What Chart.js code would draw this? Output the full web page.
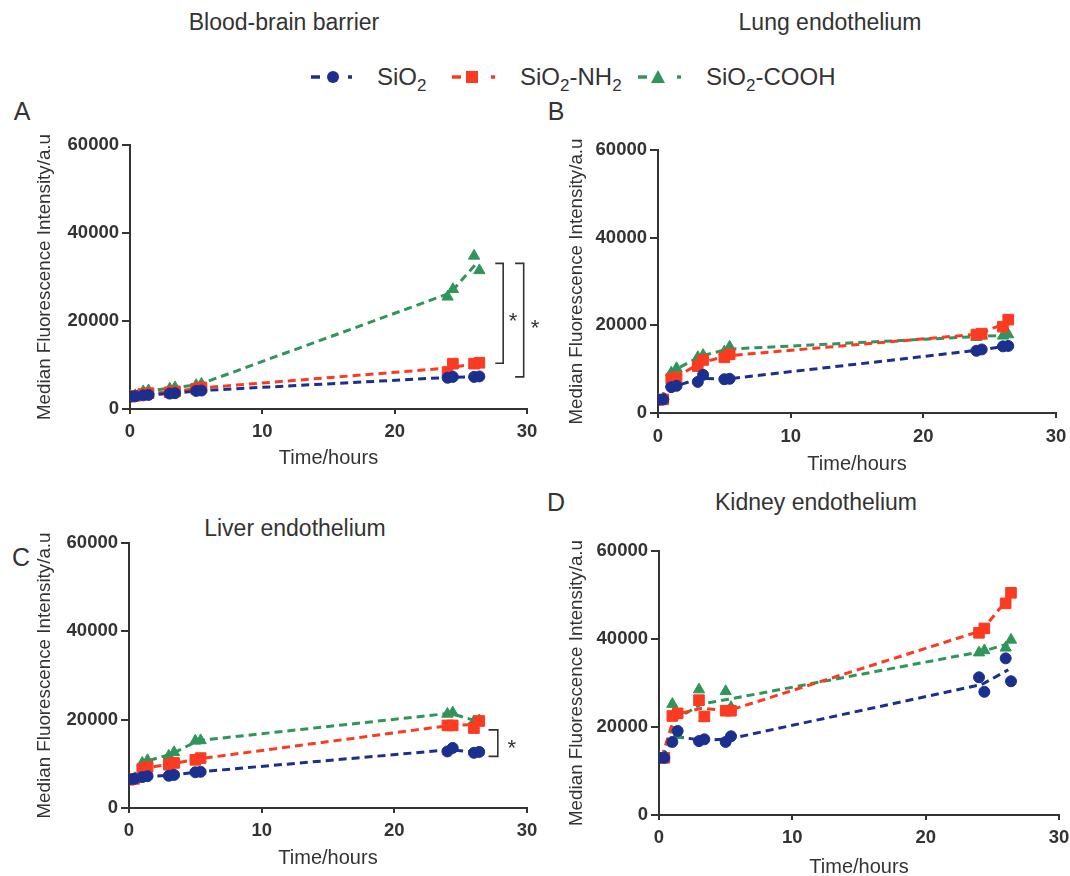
<!DOCTYPE html>
<html>
<head>
<meta charset="utf-8">
<script src="https://cdn.jsdelivr.net/npm/chart.js@4.4.0/dist/chart.umd.min.js"></script>
<style>
  body { margin: 0; width: 1070px; height: 876px; position: relative; overflow: hidden; background: #fff;
         font-family: "Liberation Sans", Arial, Helvetica, sans-serif; color: #333; }
  canvas { position: absolute; }
  .title { position: absolute; font-size: 23px; transform: translate(-50%, -50%); white-space: nowrap; }
  .letter { position: absolute; font-size: 25px; transform: translate(-50%, -50%); }
  .leg { position: absolute; top: 77px; font-size: 24px; transform: translateY(-50%); white-space: nowrap; }
  .leg sub { font-size: 17px; vertical-align: -6px; line-height: 0; }
  #icons { position: absolute; left: 0; top: 62px; }
</style>
</head>
<body>
<div class="title" style="left:284px;top:22px">Blood-brain barrier</div>
<div class="title" style="left:830px;top:22px">Lung endothelium</div>
<div class="title" style="left:295px;top:528px">Liver endothelium</div>
<div class="title" style="left:816px;top:502px">Kidney endothelium</div>
<div class="letter" style="left:22px;top:111px">A</div>
<div class="letter" style="left:556px;top:111px">B</div>
<div class="letter" style="left:21px;top:557px">C</div>
<div class="letter" style="left:556px;top:502px">D</div>

<svg id="icons" width="720" height="30">
  <g stroke-width="3.5">
    <line x1="311" y1="15" x2="320" y2="15" stroke="#1b2f8f"/>
    <circle cx="333" cy="15" r="6" fill="#1b2f8f"/>
    <line x1="348" y1="15" x2="352" y2="15" stroke="#1b2f8f"/>
    <line x1="452" y1="15" x2="461" y2="15" stroke="#fb3b21"/>
    <rect x="466" y="9" width="12" height="12" fill="#fb3b21"/>
    <line x1="491" y1="15" x2="495" y2="15" stroke="#fb3b21"/>
    <line x1="638" y1="15" x2="647" y2="15" stroke="#30955a"/>
    <polygon points="658,8 665,21 651,21" fill="#30955a"/>
    <line x1="677" y1="15" x2="681" y2="15" stroke="#30955a"/>
  </g>
</svg>
<div class="leg" style="left:377px">SiO<sub>2</sub></div>
<div class="leg" style="left:520px">SiO<sub>2</sub>-NH<sub>2</sub></div>
<div class="leg" style="left:706px">SiO<sub>2</sub>-COOH</div>

<canvas id="bbb"></canvas>
<canvas id="lung"></canvas>
<canvas id="liver"></canvas>
<canvas id="kidney"></canvas>

<script>
const FONT = '"Liberation Sans", Arial, Helvetica, sans-serif';
const INK = '#333';
const BLUE = '#1b2f8f', RED = '#fb3b21', GREEN = '#30955a';

// sampling times (h) of the two replicates, slightly staggered as in the figure
const timesRep1 = [0, 1, 3, 5, 24, 26];
const timesRep2 = [0.4, 1.4, 3.4, 5.4, 24.4, 26.4];
const xTicks = [0, 10, 20, 30];
const yTicks = [0, 20000, 40000, 60000];

// A  blood-brain barrier
const bbbSiO2_1 = [2800, 3100, 3500, 4100, 7100, 7300];
const bbbSiO2_2 = [2900, 3200, 3600, 4200, 7300, 7400];
const bbbNH2_1  = [2800, 3400, 3800, 4600, 8400, 10300];
const bbbNH2_2  = [3000, 3600, 4000, 4900, 10300, 10500];
const bbbCOOH_1 = [3000, 4000, 4600, 5400, 25500, 34800];
const bbbCOOH_2 = [3100, 4200, 4900, 5700, 27200, 31500];

// B  lung endothelium
const lungSiO2_1 = [3000, 5900, 7100, 7700, 14200, 15200];
const lungSiO2_2 = [3100, 6200, 8700, 7800, 14500, 15300];
const lungNH2_1  = [3000, 7800, 10700, 12700, 17900, 19700];
const lungNH2_2  = [3100, 8100, 12100, 13400, 18100, 21300];
const lungCOOH_1 = [3000, 9200, 12700, 14000, 17300, 17600];
const lungCOOH_2 = [3100, 10200, 13200, 15100, 17600, 17900];

// C  liver endothelium
const liverSiO2_1 = [6500, 7000, 7300, 8100, 12800, 12500];
const liverSiO2_2 = [6600, 7200, 7500, 8200, 13600, 12700];
const liverNH2_1  = [6400, 8800, 9800, 10900, 18700, 18100];
const liverNH2_2  = [6600, 9300, 10200, 11300, 18700, 19700];
const liverCOOH_1 = [6500, 10200, 11800, 15200, 21300, 19600];
const liverCOOH_2 = [6700, 10800, 12600, 15300, 21600, 19800];

// D  kidney endothelium
const kidneySiO2_1 = [13000, 16600, 16800, 16600, 31300, 35600];
const kidneySiO2_2 = [13000, 19100, 17200, 17900, 28000, 30400];
const kidneyNH2_1  = [13000, 22500, 26100, 23700, 41400, 48100];
const kidneyNH2_2  = [13000, 23100, 22400, 23700, 42400, 50500];
const kidneyCOOH_1 = [13000, 25200, 28500, 28100, 36900, 38000];
const kidneyCOOH_2 = [13000, 18100, 22000, 24500, 37400, 39800];

// significance brackets (hours / a.u.)
const bbbBrackets = [
  { x0: 27.6, x: 28.2, top: 33100, bottom: 10400, sx: 28.95, sy: 19800 },
  { x0: 29.1, x: 29.75, top: 33100, bottom: 7300, sx: 30.6, sy: 18300 }
];
const liverBrackets = [
  { x0: 27.1, x: 27.8, top: 17700, bottom: 11700, sx: 28.85, sy: 13300 }
];

const bracketPlugin = {
  id: 'brackets',
  afterDatasetsDraw(chart, args, opts) {
    const { ctx, scales: { x, y } } = chart;
    (opts.items || []).forEach(b => {
      const xl = x.getPixelForValue(b.x0), xr = x.getPixelForValue(b.x);
      const y1 = y.getPixelForValue(b.top), y2 = y.getPixelForValue(b.bottom);
      ctx.save();
      ctx.strokeStyle = INK; ctx.lineWidth = 1.6;
      ctx.beginPath();
      ctx.moveTo(xl, y1); ctx.lineTo(xr, y1); ctx.lineTo(xr, y2); ctx.lineTo(xl, y2);
      ctx.stroke();
      ctx.fillStyle = INK; ctx.font = '22px ' + FONT;
      ctx.textAlign = 'center'; ctx.textBaseline = 'middle';
      ctx.fillText('*', x.getPixelForValue(b.sx), y.getPixelForValue(b.sy));
      ctx.restore();
    });
  }
};

function panel(id, box, groups, brackets) {
  const cv = document.getElementById(id);
  cv.width = box.w; cv.height = box.h;
  cv.style.left = box.left + 'px'; cv.style.top = box.top + 'px';

  const points = groups.map(g => ({
    data: g.rep1.map((v, i) => ({ x: timesRep1[i], y: v }))
      .concat(g.rep2.map((v, i) => ({ x: timesRep2[i], y: v }))),
    showLine: false, pointStyle: g.style, pointRadius: g.r, pointHoverRadius: g.r,
    backgroundColor: g.color, borderColor: g.color, borderWidth: 1
  }));
  const lines = groups.map(g => ({
    data: g.rep1.map((v, i) => ({ x: (timesRep1[i] + timesRep2[i]) / 2, y: (v + g.rep2[i]) / 2 })),
    showLine: true, pointRadius: 0, borderColor: g.color, borderWidth: 3,
    borderDash: [8, 5], fill: false, tension: 0
  }));

  new Chart(cv, {
    type: 'scatter',
    data: { datasets: [...points, ...lines] },
    options: {
      responsive: false, animation: false, devicePixelRatio: 1,
      layout: { padding: { left: 0, top: box.pt, right: box.pr, bottom: box.pb } },
      plugins: { legend: { display: false }, tooltip: { enabled: false }, brackets: { items: brackets } },
      scales: {
        x: {
          type: 'linear', min: 0, max: 30,
          afterBuildTicks: s => { s.ticks = xTicks.map(v => ({ value: v })); },
          afterFit: s => { s.height = box.xh; },
          ticks: { color: INK, padding: box.xlp, font: { family: FONT, size: 18.5, weight: 'bold' }, maxRotation: 0 },
          grid: { drawOnChartArea: false, color: INK, lineWidth: 2, tickLength: 5 },
          border: { color: INK, width: 2 },
          title: { display: true, text: 'Time/hours', color: INK,
                   font: { family: FONT, size: 20, lineHeight: 1 }, padding: { top: 0, bottom: box.xtp } }
        },
        y: {
          min: 0, max: 60000,
          afterBuildTicks: s => { s.ticks = yTicks.map(v => ({ value: v })); },
          afterFit: s => { s.width = box.yw; },
          ticks: { color: INK, padding: 3, font: { family: FONT, size: 18.5, weight: 'bold' }, callback: v => String(v) },
          grid: { drawOnChartArea: false, color: INK, lineWidth: 2, tickLength: 8 },
          border: { color: INK, width: 2 },
          title: { display: true, text: 'Median Fluorescence Intensity/a.u', color: INK,
                   font: { family: FONT, size: 18.8, lineHeight: 1 }, padding: { top: box.ytp, bottom: 0 } }
        }
      }
    },
    plugins: [bracketPlugin]
  });
}

const mk = (s1, s2, n1, n2, c1, c2) => [
  { rep1: s1, rep2: s2, color: BLUE, style: 'circle', r: 5.5 },
  { rep1: n1, rep2: n2, color: RED, style: 'rect', r: 7.5 },
  { rep1: c1, rep2: c2, color: GREEN, style: 'triangle', r: 6.5 }
];

panel('bbb', { left: 22, top: 120, w: 533, h: 360, yw: 108, xh: 60, pt: 25, pr: 28, pb: 11, xlp: 7, xtp: 1, ytp: 13.5 },
  mk(bbbSiO2_1, bbbSiO2_2, bbbNH2_1, bbbNH2_2, bbbCOOH_1, bbbCOOH_2), bbbBrackets);
panel('lung', { left: 552, top: 125, w: 530, h: 360, yw: 106, xh: 62, pt: 25, pr: 26, pb: 10, xlp: 8, xtp: 1, ytp: 15.5 },
  mk(lungSiO2_1, lungSiO2_2, lungNH2_1, lungNH2_2, lungCOOH_1, lungCOOH_2), []);
panel('liver', { left: 22, top: 518, w: 533, h: 358, yw: 107, xh: 60, pt: 25, pr: 28, pb: 8, xlp: 7, xtp: 0, ytp: 13.5 },
  mk(liverSiO2_1, liverSiO2_2, liverNH2_1, liverNH2_2, liverCOOH_1, liverCOOH_2), liverBrackets);
panel('kidney', { left: 552, top: 526, w: 530, h: 350, yw: 107, xh: 60, pt: 25, pr: 23, pb: 1, xlp: 7, xtp: -2, ytp: 15.5 },
  mk(kidneySiO2_1, kidneySiO2_2, kidneyNH2_1, kidneyNH2_2, kidneyCOOH_1, kidneyCOOH_2), []);
</script>
</body>
</html>
